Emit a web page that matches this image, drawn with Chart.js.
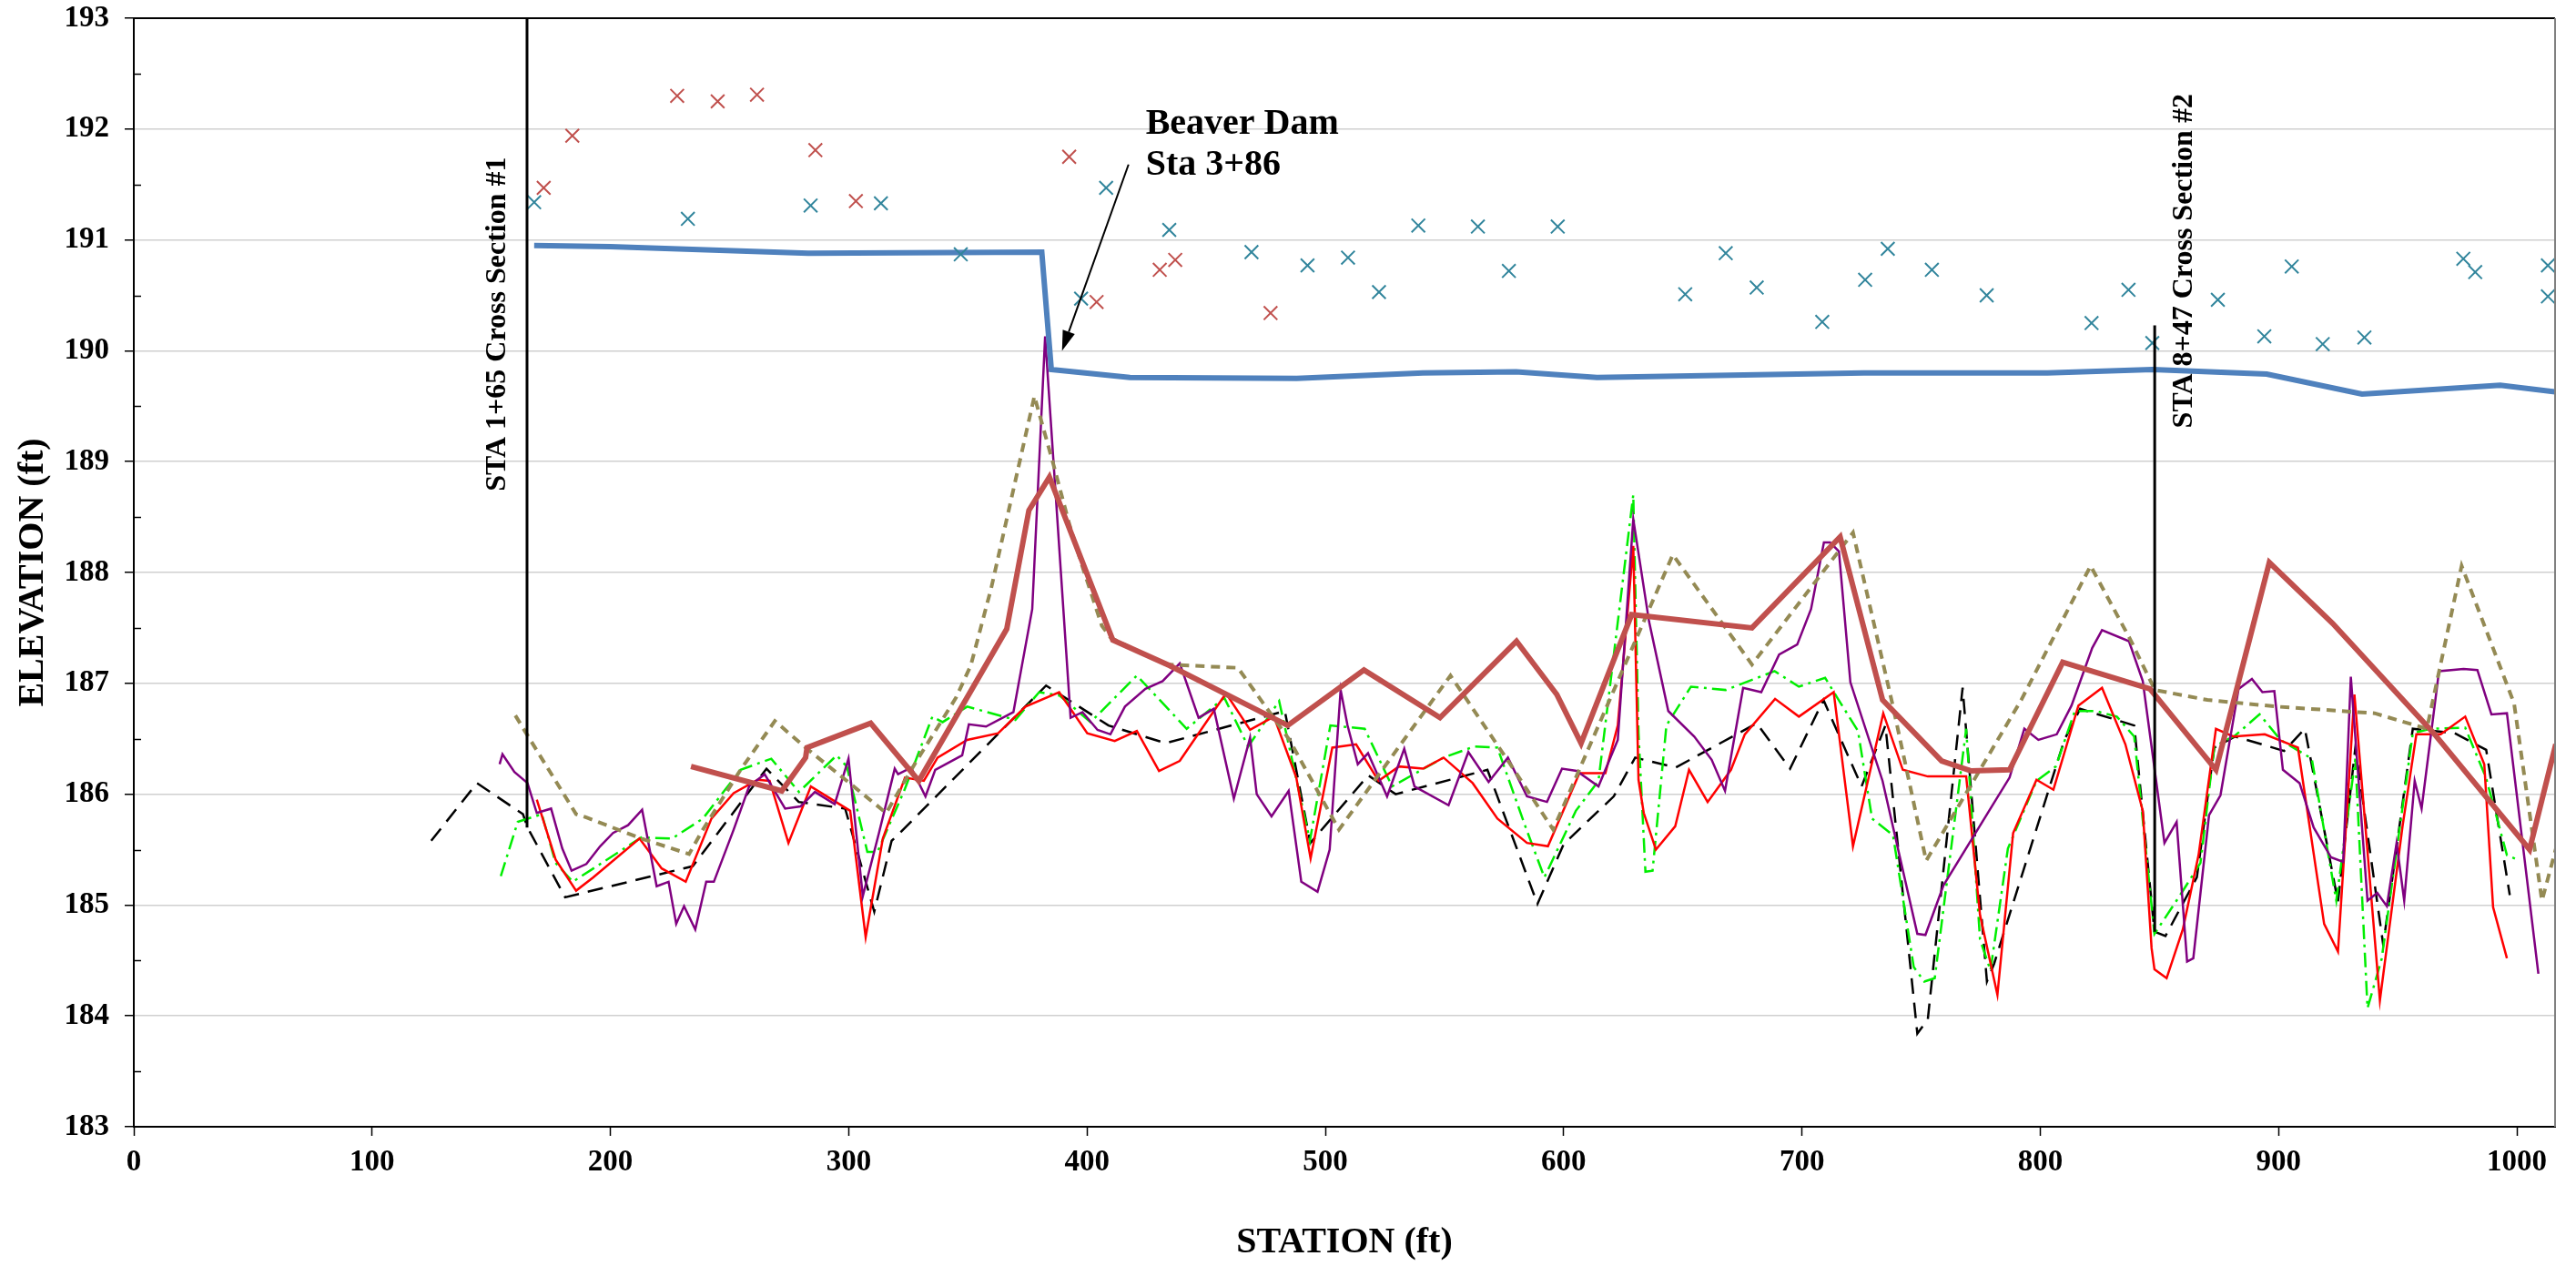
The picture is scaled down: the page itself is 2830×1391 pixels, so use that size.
<!DOCTYPE html>
<html>
<head>
<meta charset="utf-8">
<title>Profile</title>
<script src="https://cdn.jsdelivr.net/npm/chart.js@4.4.1/dist/chart.umd.min.js"></script>
<style>
  html, body { margin: 0; padding: 0; background: #fff; }
  #wrap { width: 2830px; height: 1391px; }
</style>
</head>
<body>
<div id="wrap"><canvas id="profile"></canvas></div>
<script>
// water surface
const wsSta  = [168, 200, 283, 381, 385, 418, 488, 541, 580, 614, 726, 803, 847, 895, 935, 993, 1016];
const wsElev = [190.95, 190.94, 190.88, 190.89, 189.83, 189.76, 189.75, 189.80, 189.81, 189.76, 189.80, 189.80, 189.83, 189.79, 189.61, 189.69, 189.63];

// surveyed points (red x)
const redXSta  = [172, 184, 228, 245, 261.5, 286, 303, 392.5, 404, 430.5, 437, 477];
const redXElev = [191.47, 191.94, 192.30, 192.25, 192.31, 191.81, 191.35, 191.75, 190.44, 190.73, 190.82, 190.34];

// surveyed points (teal x)
const tealXSta  = [168, 232.5, 284, 313.5, 347, 397.5, 408, 434.5, 469, 492.5, 509.5, 522.5, 539, 564, 577, 597.5, 651, 668, 681, 708.5, 726.5, 736, 754.5, 777.5, 821.5, 837, 847, 874.5, 894, 905.5, 918.5, 936, 977.5, 982.5, 1013, 1013];
const tealXElev = [191.34, 191.19, 191.31, 191.33, 190.87, 190.47, 191.47, 191.09, 190.89, 190.77, 190.84, 190.53, 191.13, 191.12, 190.72, 191.12, 190.51, 190.88, 190.57, 190.26, 190.64, 190.92, 190.73, 190.50, 190.25, 190.55, 190.07, 190.46, 190.13, 190.76, 190.06, 190.12, 190.83, 190.71, 190.77, 190.49];

// black dashed profile
const blackSta  = [124.8, 144, 163.3, 165.2, 181, 234.5, 265.5, 279, 298.5, 310.7, 318, 320.5, 382.8, 409, 433, 483, 493.7, 518, 529.5, 568, 589, 600, 621, 630, 647, 681, 695, 709, 725, 735, 748.4, 752.8, 767.4, 777.6, 780.6, 810.1, 816.7, 839.4, 847.9, 852.5, 865.7, 873, 881.8, 902.3, 911, 924.9, 932.2, 943.9, 956.3, 973.9, 987.1, 997];
const blackElev = [185.58, 186.10, 185.82, 185.70, 185.07, 185.35, 186.23, 185.93, 185.87, 184.94, 185.58, 185.63, 186.98, 186.62, 186.46, 186.75, 185.56, 186.17, 186.00, 186.22, 185.01, 185.55, 185.98, 186.33, 186.24, 186.64, 186.23, 186.85, 186.07, 186.62, 183.84, 183.97, 186.96, 184.31, 184.47, 186.49, 186.77, 186.62, 184.76, 184.72, 185.25, 186.42, 186.52, 186.39, 186.59, 185.03, 186.42, 184.64, 186.59, 186.55, 186.40, 185.09];

// green dash-dot profile
const greenSta  = [154, 161.1, 171.2, 177, 184.2, 213, 225.9, 238.8, 254.6, 267.5, 279.1, 294.9, 299.2, 307.8, 312.1, 323.6, 335.1, 339.4, 349.7, 369.9, 379.9, 388.5, 401.5, 420.9, 441.8, 457.6, 467.6, 480.6, 493.5, 502.1, 516.5, 528, 549.6, 562.5, 572.2, 583.9, 591.9, 605.1, 614.6, 629.2, 631.4, 634.3, 637.3, 643.1, 653.4, 668, 688.5, 698.7, 709.7, 714.8, 723.5, 729.4, 738.2, 746.9, 751.3, 755.7, 768.9, 774.7, 779.1, 786.4, 798.4, 806.5, 814.5, 823.3, 832.1, 839.4, 847.9, 858.4, 867.2, 873, 881.8, 892, 900.8, 913.9, 924.2, 932.2, 937.3, 943.2, 956.3, 963.7, 978.3, 987, 995.8, 1000.2];
const greenElev = [185.26, 185.75, 185.82, 185.38, 185.21, 185.61, 185.60, 185.78, 186.22, 186.32, 186.02, 186.35, 186.25, 185.48, 185.48, 186.05, 186.70, 186.65, 186.79, 186.67, 186.92, 186.89, 186.65, 187.07, 186.59, 186.87, 186.43, 186.84, 185.58, 186.62, 186.59, 186.07, 186.33, 186.43, 186.42, 185.71, 185.25, 185.85, 186.12, 188.70, 186.55, 185.30, 185.31, 186.62, 186.97, 186.94, 187.11, 186.97, 187.05, 186.87, 186.57, 185.78, 185.63, 184.44, 184.31, 184.34, 186.59, 184.69, 184.41, 185.51, 186.12, 186.25, 186.75, 186.75, 186.70, 186.52, 184.74, 185.08, 185.38, 186.43, 186.53, 186.72, 186.49, 186.32, 185.04, 186.32, 184.07, 184.51, 186.55, 186.59, 186.60, 186.15, 185.45, 185.41];

// red solid profile
const redSta  = [169.1, 177, 185.6, 192.8, 212.2, 221.5, 231.6, 242.4, 251.7, 261.8, 266.8, 274.7, 284.1, 300.6, 307.1, 314.3, 323.6, 331.5, 337.3, 349.7, 362.7, 374.2, 388.3, 400.1, 411.6, 420.9, 430.2, 438.9, 458.3, 468.4, 478.4, 487.8, 493.8, 502.9, 512.9, 522.3, 530.9, 541, 549.6, 561.8, 572.2, 584.6, 593.4, 606.6, 617.5, 622.7, 629.2, 631.4, 633.6, 638.7, 646.8, 652.6, 660.4, 670.2, 676, 688.7, 698.7, 713.3, 721.4, 734.1, 742.3, 752.8, 768.9, 774.7, 782, 788.6, 798.4, 805.5, 816, 825.9, 835.7, 843, 846.7, 847.9, 853, 859.8, 866.4, 873.7, 881, 894.2, 908.1, 919.1, 924.9, 931.8, 942.5, 952, 957.8, 968, 978.3, 986.3, 990, 995.8];
const redElev = [185.95, 185.41, 185.13, 185.25, 185.60, 185.33, 185.21, 185.78, 186.01, 186.13, 186.12, 185.56, 186.07, 185.85, 184.71, 185.60, 186.15, 186.12, 186.33, 186.49, 186.55, 186.79, 186.92, 186.55, 186.48, 186.57, 186.21, 186.30, 186.91, 186.58, 186.70, 186.15, 185.42, 186.42, 186.45, 186.12, 186.25, 186.23, 186.33, 186.10, 185.78, 185.56, 185.53, 186.19, 186.19, 186.62, 188.24, 186.13, 185.83, 185.50, 185.71, 186.22, 185.93, 186.22, 186.54, 186.86, 186.70, 186.92, 185.53, 186.73, 186.22, 186.16, 186.16, 184.91, 184.19, 185.65, 186.13, 186.04, 186.80, 186.96, 186.45, 185.85, 184.61, 184.42, 184.34, 184.78, 185.45, 186.59, 186.52, 186.54, 186.42, 184.83, 184.58, 186.90, 184.14, 185.71, 186.54, 186.54, 186.70, 186.27, 184.98, 184.52];

// purple solid profile
const purpleSta  = [153.5, 154.7, 159.7, 165.2, 169.1, 175.1, 179.8, 183.7, 189.9, 195.7, 201.1, 207.4, 213.3, 219.4, 224.4, 227.6, 230.9, 235.6, 240.2, 243.4, 251.7, 258.2, 264.7, 273.3, 279.8, 285.8, 294.1, 299.9, 305.9, 312.8, 319.3, 320.7, 326.2, 332.2, 336.3, 347.6, 350.4, 357.6, 369.1, 377, 382.4, 393.1, 398.1, 404.4, 409.8, 415.9, 424.5, 431.7, 438.9, 446.8, 453.2, 461.6, 468.4, 471.2, 477.4, 484.6, 489.9, 496.7, 501.8, 506.4, 509.3, 513.6, 517.9, 525.9, 533.1, 537.4, 551.7, 560, 568.5, 576.6, 584.6, 593, 599.3, 605.4, 614.6, 622.7, 629.2, 635.8, 643.9, 654.8, 662.1, 667.7, 675.3, 682.9, 690.4, 698, 703.8, 709.2, 711.8, 715.5, 720.3, 733.8, 748.4, 751.8, 759.4, 779.1, 787.1, 793.3, 799.2, 806.9, 813.1, 821.8, 825.9, 837.2, 843, 852.1, 857.2, 861.6, 864.2, 870.8, 875.6, 883.2, 888.8, 893.2, 898.2, 901.8, 908.8, 914.7, 922, 927.1, 930.3, 937.3, 941.4, 945.4, 949.5, 952.7, 957.1, 960, 967.3, 977.6, 983.4, 989.3, 995.8, 1009];
const purpleElev = [186.27, 186.36, 186.20, 186.10, 185.83, 185.87, 185.51, 185.31, 185.37, 185.53, 185.65, 185.72, 185.86, 185.17, 185.21, 184.83, 184.99, 184.78, 185.21, 185.21, 185.68, 186.07, 186.18, 185.87, 185.89, 186.02, 185.91, 186.32, 185.08, 185.66, 186.23, 186.18, 186.24, 185.98, 186.22, 186.35, 186.63, 186.61, 186.74, 187.67, 190.13, 186.69, 186.74, 186.58, 186.54, 186.79, 186.95, 187.02, 187.18, 186.69, 186.77, 185.96, 186.51, 186.00, 185.80, 186.03, 185.21, 185.12, 185.50, 186.94, 186.62, 186.27, 186.37, 185.98, 186.41, 186.07, 185.90, 186.38, 186.11, 186.33, 185.98, 185.93, 186.23, 186.21, 186.07, 186.49, 188.48, 187.56, 186.75, 186.52, 186.31, 186.03, 186.96, 186.92, 187.26, 187.35, 187.67, 188.27, 188.27, 188.19, 187.01, 186.12, 184.74, 184.73, 185.18, 185.87, 186.15, 186.59, 186.49, 186.54, 186.80, 187.32, 187.48, 187.38, 187.02, 185.56, 185.75, 184.49, 184.52, 185.81, 185.99, 186.95, 187.04, 186.92, 186.93, 186.22, 186.10, 185.70, 185.43, 185.39, 187.06, 185.04, 185.11, 184.99, 185.56, 185.04, 186.12, 185.87, 187.11, 187.13, 187.12, 186.72, 186.73, 184.38];

// olive dashed profile
const oliveSta  = [160.1, 165.5, 185.6, 189.9, 212.9, 233, 238.8, 254.6, 269, 281.9, 299.2, 315.7, 327.9, 345, 351.2, 359.8, 377.9, 385.7, 392.5, 398.4, 406.2, 410, 433, 463.3, 484.9, 505.7, 552.5, 577.3, 595.6, 645.8, 679, 721.4, 738.2, 752.1, 774.7, 792, 821.1, 837.9, 848.1, 870.1, 899.3, 940.3, 962.2, 976.8, 998.8, 1010.5, 1017];
const oliveElev = [186.71, 186.52, 185.82, 185.79, 185.60, 185.46, 185.68, 186.22, 186.66, 186.42, 186.12, 185.83, 186.28, 186.87, 187.16, 187.86, 189.59, 188.99, 188.44, 188.03, 187.52, 187.41, 187.17, 187.14, 186.49, 185.68, 187.07, 186.28, 185.68, 188.16, 187.17, 188.36, 186.79, 185.40, 186.22, 186.85, 188.06, 187.39, 186.94, 186.85, 186.79, 186.73, 186.59, 188.06, 186.82, 185.04, 185.56];

// brown thick profile
const brownSta  = [233.8, 271.9, 281.9, 282.5, 309.2, 329.4, 366.3, 375.6, 384.2, 410.8, 434.6, 484.2, 516.2, 548.1, 580.2, 597.1, 607.3, 628.5, 679, 716, 733.8, 758.6, 771, 787.1, 809.4, 846, 873.7, 896.1, 922.7, 965.1, 1005.3, 1016.3];
const brownElev = [186.25, 186.03, 186.33, 186.42, 186.64, 186.12, 187.49, 188.56, 188.86, 187.39, 187.16, 186.62, 187.12, 186.69, 187.38, 186.90, 186.46, 187.62, 187.50, 188.32, 186.85, 186.30, 186.21, 186.22, 187.19, 186.95, 186.22, 188.09, 187.54, 186.55, 185.50, 186.45];

// cross section markers
const xs1Sta = [165, 165];
const xs1Elev = [193, 185.70];
const xs2Sta = [848, 848];
const xs2Elev = [190.23, 184.76];

const xsLabels = ['STA 1+65 Cross Section #1', 'STA 8+47 Cross Section #2'];
const damLabel = ['Beaver Dam', 'Sta 3+86'];

const FONT = '"Liberation Serif", "Times New Roman", serif';

function pts(sta, elev) {
  return sta.map((s, i) => ({x: s, y: elev[i]}));
}

function line(sta, elev, color, width, dash) {
  return {
    data: pts(sta, elev),
    showLine: true,
    borderColor: color,
    backgroundColor: color,
    borderWidth: width,
    borderDash: dash || [],
    pointRadius: 0,
    tension: 0
  };
}

function marks(sta, elev, color) {
  return {
    data: pts(sta, elev),
    showLine: false,
    pointStyle: 'crossRot',
    pointRadius: 10.5,
    pointBorderWidth: 2,
    borderColor: color,
    backgroundColor: color
  };
}

const decorations = {
  id: 'decorations',
  afterDatasetsDraw(chart) {
    const {ctx, chartArea: a, scales: {x, y}} = chart;
    ctx.save();

    // minor ticks (inside)
    ctx.strokeStyle = '#000';
    ctx.lineWidth = 1.5;
    for (let v = 183.5; v < 193; v += 1) {
      const py = Math.round(y.getPixelForValue(v)) + 0.5;
      ctx.beginPath();
      ctx.moveTo(a.left, py);
      ctx.lineTo(a.left + 8, py);
      ctx.stroke();
    }

    // plot border top / right
    ctx.lineWidth = 2;
    ctx.strokeStyle = '#000';
    ctx.beginPath();
    ctx.moveTo(a.left, a.top);
    ctx.lineTo(a.right, a.top);
    ctx.stroke();
    ctx.strokeStyle = '#808080';
    ctx.beginPath();
    ctx.moveTo(a.right, a.top);
    ctx.lineTo(a.right, a.bottom);
    ctx.stroke();

    // cross section labels
    ctx.fillStyle = '#000';
    ctx.font = 'bold 32px ' + FONT;
    ctx.textAlign = 'center';
    ctx.textBaseline = 'alphabetic';
    const vtext = (txt, px, py) => {
      ctx.save();
      ctx.translate(px, py);
      ctx.rotate(-Math.PI / 2);
      ctx.fillText(txt, 0, 0);
      ctx.restore();
    };
    vtext(xsLabels[0], x.getPixelForValue(165) - 24, y.getPixelForValue(190.24));
    vtext(xsLabels[1], x.getPixelForValue(848) + 41, y.getPixelForValue(190.81));

    // beaver dam note
    ctx.font = 'bold 40px ' + FONT;
    ctx.textAlign = 'left';
    const tx = x.getPixelForValue(424.6);
    const ty = y.getPixelForValue(191.96);
    ctx.fillText(damLabel[0], tx, ty);
    ctx.fillText(damLabel[1], tx, ty + 45);

    // arrow
    const x0 = x.getPixelForValue(417.4), y0 = y.getPixelForValue(191.68);
    const x1 = x.getPixelForValue(389.5), y1 = y.getPixelForValue(190.0);
    const ang = Math.atan2(y1 - y0, x1 - x0);
    const head = 22, half = 7;
    const bx = x1 - head * Math.cos(ang), by = y1 - head * Math.sin(ang);
    ctx.strokeStyle = '#000';
    ctx.lineWidth = 2;
    ctx.beginPath();
    ctx.moveTo(x0, y0);
    ctx.lineTo(bx, by);
    ctx.stroke();
    ctx.beginPath();
    ctx.moveTo(x1, y1);
    ctx.lineTo(bx + half * Math.sin(ang), by - half * Math.cos(ang));
    ctx.lineTo(bx - half * Math.sin(ang), by + half * Math.cos(ang));
    ctx.closePath();
    ctx.fill();

    ctx.restore();
  }
};

new Chart(document.getElementById('profile'), {
  type: 'scatter',
  data: {
    datasets: [
      line(xs1Sta, xs1Elev, '#000000', 3),
      line(xs2Sta, xs2Elev, '#000000', 3),
      marks(tealXSta, tealXElev, '#31859C'),
      marks(redXSta, redXElev, '#C0504D'),
      line(wsSta, wsElev, '#4F81BD', 6),
      line(brownSta, brownElev, '#C0504D', 6),
      line(oliveSta, oliveElev, '#948A54', 4, [10, 7]),
      line(purpleSta, purpleElev, '#800080', 2.5),
      line(redSta, redElev, '#FF0000', 2.5),
      line(greenSta, greenElev, '#00EE00', 2.5, [16, 6, 3, 6]),
      line(blackSta, blackElev, '#000000', 2.5, [17, 10])
    ]
  },
  options: {
    responsive: true,
    maintainAspectRatio: false,
    animation: false,
    devicePixelRatio: 1,
    layout: { padding: { left: 0, right: 23, top: 20, bottom: 0 } },
    plugins: {
      legend: { display: false },
      tooltip: { enabled: false }
    },
    scales: {
      x: {
        type: 'linear',
        min: 0,
        max: 1016,
        afterFit: s => { s.height = 153; s.paddingLeft = 0; s.paddingRight = 0; },
        ticks: {
          stepSize: 100,
          includeBounds: false,
          color: '#000',
          padding: 10,
          maxRotation: 0,
          callback: v => String(v),
          font: { family: FONT, size: 33, weight: 'bold' }
        },
        grid: {
          drawOnChartArea: false,
          drawTicks: true,
          tickLength: 10,
          tickColor: '#000',
          tickWidth: 1.5
        },
        border: { color: '#000', width: 2 },
        title: {
          display: true,
          text: 'STATION (ft)',
          color: '#000',
          padding: { top: 0, bottom: 1 },
          font: { family: FONT, size: 40, weight: 'bold' }
        }
      },
      y: {
        type: 'linear',
        min: 183,
        max: 193,
        afterFit: s => { s.width = 147; s.paddingTop = 0; s.paddingBottom = 0; },
        ticks: {
          stepSize: 1,
          color: '#000',
          padding: 17,
          callback: v => String(v),
          font: { family: FONT, size: 33, weight: 'bold' }
        },
        grid: {
          color: '#d0d0d0',
          lineWidth: 1.5,
          drawTicks: true,
          tickLength: 10,
          tickColor: '#000',
          tickWidth: 1.5
        },
        border: { color: '#000', width: 2 },
        title: {
          display: true,
          text: 'ELEVATION (ft)',
          color: '#000',
          padding: { top: 13, bottom: 0 },
          font: { family: FONT, size: 40, weight: 'bold' }
        }
      }
    }
  },
  plugins: [decorations]
});
</script>
</body>
</html>
